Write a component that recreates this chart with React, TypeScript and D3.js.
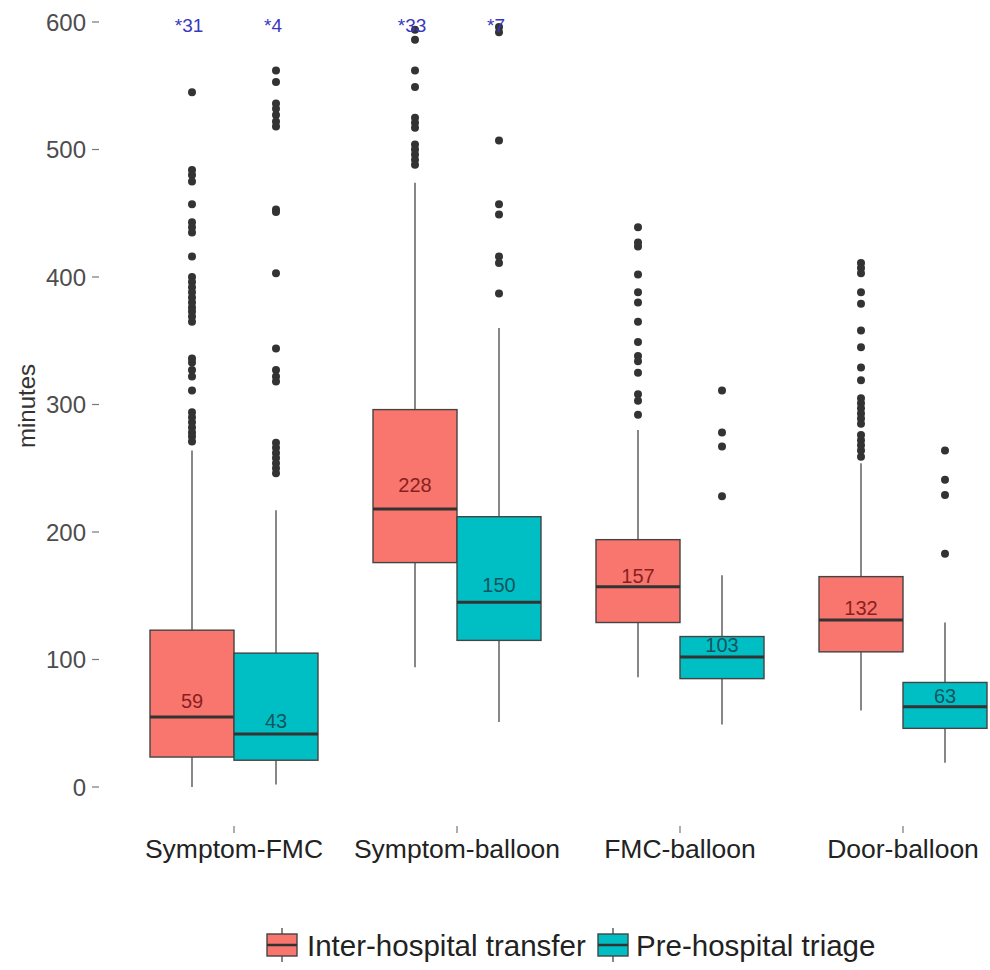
import React from "react";
import * as d3 from "d3";

const categories = ["Symptom-FMC", "Symptom-balloon", "FMC-balloon", "Door-balloon"];
const groups = ["Inter-hospital transfer", "Pre-hospital triage"];
const colors = ["#F8766D", "#00BFC4"];
const labelColors = ["#8a1f1f", "#14545e"];

// Inter-hospital transfer
const interLow = [0, 94, 86, 60];
const interQ1 = [23.5, 176, 129, 106];
const interMed = [55, 218, 157, 131];
const interQ3 = [123, 296, 194, 165];
const interHigh = [264, 474, 280, 254];
const interLabel = [59, 228, 157, 132];
const interOver = ["*31", "*33", "", ""];
const interOutliers = [
  [545, 484, 480, 475, 457, 443, 439, 435, 416, 400, 396, 392, 388, 384, 380, 376, 373, 369, 365, 336, 333, 327, 322, 311, 294, 290, 286, 282, 278, 275, 271],
  [594, 586, 562, 549, 525, 521, 517, 504, 500, 496, 492, 488],
  [439, 427, 424, 402, 388, 380, 365, 349, 338, 334, 325, 308, 303, 292],
  [411, 407, 403, 388, 379, 358, 345, 329, 319, 305, 301, 297, 293, 289, 285, 276, 272, 268, 264, 259],
];

// Pre-hospital triage
const preLow = [2, 51, 49, 19];
const preQ1 = [21, 115, 85, 46];
const preMed = [41.5, 145, 102, 63];
const preQ3 = [105, 212, 118, 82];
const preHigh = [217, 360, 166, 129];
const preLabel = [43, 150, 103, 63];
const preOver = ["*4", "*7", "", ""];
const preOutliers = [
  [562, 553, 536, 532, 527, 522, 518, 453, 451, 403, 344, 327, 322, 318, 270, 266, 262, 258, 254, 250, 246],
  [596, 592, 507, 457, 449, 416, 411, 387],
  [311, 278, 267, 228],
  [264, 241, 229, 183],
];

const yTicks = [0, 100, 200, 300, 400, 500, 600];

const font = "'Liberation Sans', Arial, sans-serif";

export default function App() {
  const W = 990, H = 970;
  const y = d3.scaleLinear().domain([0, 600]).range([787, 22]);
  const x = d3.scalePoint<string>().domain(categories).range([234, 903]);
  const sub = d3.scaleBand<string>().domain(groups).range([-84, 84]);
  const bw = sub.bandwidth();

  const series = [
    { low: interLow, q1: interQ1, med: interMed, q3: interQ3, high: interHigh, label: interLabel, over: interOver, out: interOutliers },
    { low: preLow, q1: preQ1, med: preMed, q3: preQ3, high: preHigh, label: preLabel, over: preOver, out: preOutliers },
  ];

  const axisLeft = 100;
  const axisBottom = 826;

  return (
    <svg width={W} height={H} style={{ position: "absolute", left: 0, top: 0, background: "#fff" }} fontFamily={font}>
      {/* y axis */}
      {yTicks.map((t) => (
        <g key={t}>
          <line x1={axisLeft - 8} x2={axisLeft - 1} y1={y(t)} y2={y(t)} stroke="#777" strokeWidth={1.2} />
          <text x={axisLeft - 14} y={y(t)} dy="0.36em" textAnchor="end" fontSize={24} fill="#4d4d4d">{t}</text>
        </g>
      ))}
      <text transform={`translate(35,${406}) rotate(-90)`} textAnchor="middle" fontSize={24} fill="#333">minutes</text>

      {/* x axis */}
      {categories.map((c) => (
        <g key={c}>
          <line x1={x(c)!} x2={x(c)!} y1={axisBottom} y2={axisBottom + 7} stroke="#777" strokeWidth={1.2} />
          <text x={x(c)!} y={858} textAnchor="middle" fontSize={26.5} fill="#222">{c}</text>
        </g>
      ))}

      {/* boxes */}
      {series.map((s, gi) =>
        categories.map((c, ci) => {
          const cx = x(c)! + sub(groups[gi])! + bw / 2;
          const x0 = cx - bw / 2;
          return (
            <g key={`${gi}-${ci}`}>
              <line x1={cx} x2={cx} y1={y(s.q3[ci])} y2={y(s.high[ci])} stroke="#555" strokeWidth={1.4} />
              <line x1={cx} x2={cx} y1={y(s.q1[ci])} y2={y(s.low[ci])} stroke="#555" strokeWidth={1.4} />
              <rect x={x0} y={y(s.q3[ci])} width={bw} height={y(s.q1[ci]) - y(s.q3[ci])} fill={colors[gi]} stroke="#444" strokeWidth={1.4} />
              <line x1={x0} x2={x0 + bw} y1={y(s.med[ci])} y2={y(s.med[ci])} stroke="#333" strokeWidth={3} />
              {s.out[ci].map((v, k) => (
                <circle key={k} cx={cx} cy={y(v)} r={4} fill="#333" />
              ))}
              <text x={cx} y={y(s.label[ci]) - 4} textAnchor="middle" fontSize={20} fill={labelColors[gi]}>{s.label[ci]}</text>
              {s.over[ci] && (
                <text x={cx - 3} y={y(600) + 10} textAnchor="middle" fontSize={19} fill="#3838c0">{s.over[ci]}</text>
              )}
            </g>
          );
        })
      )}

      {/* legend */}
      {[{ kx: 267, tx: 307 }, { kx: 598, tx: 636 }].map((p, gi) => (
        <g key={gi}>
          <line x1={p.kx + 15} x2={p.kx + 15} y1={928} y2={962} stroke="#555" strokeWidth={1.4} />
          <rect x={p.kx} y={934} width={30} height={22} fill={colors[gi]} stroke="#444" strokeWidth={1.4} />
          <line x1={p.kx} x2={p.kx + 30} y1={945} y2={945} stroke="#333" strokeWidth={2.5} />
          <text x={p.tx} y={956} fontSize={29.5} fill="#222">{groups[gi]}</text>
        </g>
      ))}
    </svg>
  );
}
